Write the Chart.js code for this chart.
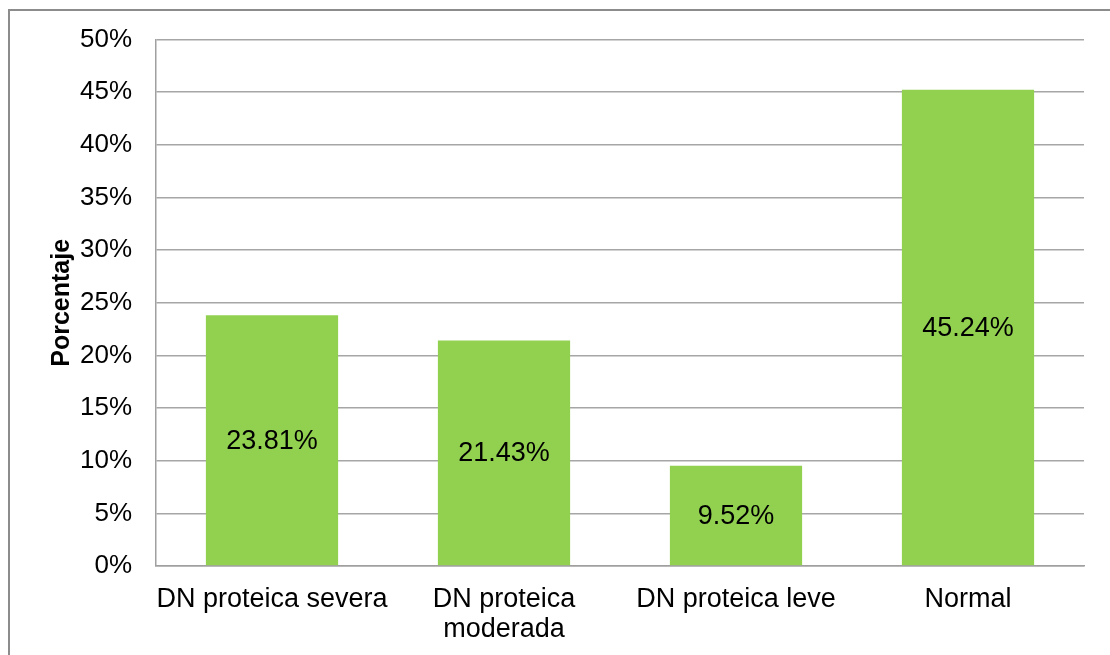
<!DOCTYPE html>
<html>
<head>
<meta charset="utf-8">
<script src="https://cdn.jsdelivr.net/npm/chart.js@4/dist/chart.umd.min.js"></script>
<style>
  html, body { margin: 0; padding: 0; background: #ffffff; }
  #wrap { position: relative; width: 1110px; height: 655px; overflow: hidden; }
  #frame {
    position: absolute; left: 8px; top: 9px; width: 1120px; height: 700px;
    border-left: 2px solid #8c8c8c; border-top: 2px solid #8c8c8c;
    box-sizing: border-box;
  }
  canvas { position: absolute; left: 0; top: 0; }
</style>
</head>
<body>
<div id="wrap">
  <div id="frame"></div>
  <canvas id="chart" width="1110" height="655"></canvas>
</div>
<script>
// Categories and their percentages
const categories = [
  ['DN proteica severa'],
  ['DN proteica', 'moderada'],
  ['DN proteica leve'],
  ['Normal']
];
const porcentajes = [23.81, 21.43, 9.52, 45.24];

const yMin = 0;
const yMax = 50;
const yStep = 5;

const FONT = "'Liberation Sans', Arial, sans-serif";

// Writes each bar's value in the middle of the bar
const barValueLabels = {
  id: 'barValueLabels',
  afterDatasetsDraw(chart) {
    const ctx = chart.ctx;
    const meta = chart.getDatasetMeta(0);
    ctx.save();
    ctx.font = '27px ' + FONT;
    ctx.fillStyle = '#000000';
    ctx.textAlign = 'center';
    ctx.textBaseline = 'middle';
    meta.data.forEach((bar, i) => {
      const v = chart.data.datasets[0].data[i];
      const yMid = (bar.y + bar.base) / 2;
      ctx.fillText(v.toFixed(2) + '%', bar.x, yMid + 1);
    });
    ctx.restore();
  }
};

new Chart(document.getElementById('chart'), {
  type: 'bar',
  data: {
    labels: categories,
    datasets: [{
      data: porcentajes,
      backgroundColor: '#92d050',
      borderWidth: 0,
      barPercentage: 0.57,
      categoryPercentage: 1.0
    }]
  },
  options: {
    responsive: false,
    animation: false,
    devicePixelRatio: 1,
    layout: { padding: { top: 39, right: 26, bottom: 0, left: 0 } },
    plugins: {
      legend: { display: false },
      tooltip: { enabled: false }
    },
    scales: {
      x: {
        grid: { display: false, drawTicks: false },
        border: { display: true, color: '#a0a0a0', width: 1.5 },
        ticks: {
          color: '#000000',
          font: { family: FONT, size: 27, lineHeight: 1.12 },
          padding: 18,
          maxRotation: 0,
          autoSkip: false
        },
        afterFit(scale) { scale.height = 89; }
      },
      y: {
        min: yMin,
        max: yMax,
        grid: { color: '#a6a6a6', lineWidth: 1.5, drawTicks: false },
        border: { display: true, color: '#a0a0a0', width: 1.5 },
        ticks: {
          stepSize: yStep,
          color: '#000000',
          font: { family: FONT, size: 26 },
          padding: 24,
          callback: (v) => v + '%'
        },
        title: {
          display: true,
          text: 'Porcentaje',
          color: '#000000',
          font: { family: FONT, size: 25, weight: 'bold', lineHeight: 1.2 },
          padding: { top: 47, bottom: 0 }
        },
        afterFit(scale) { scale.width = 156; }
      }
    }
  },
  plugins: [barValueLabels]
});
</script>
</body>
</html>
